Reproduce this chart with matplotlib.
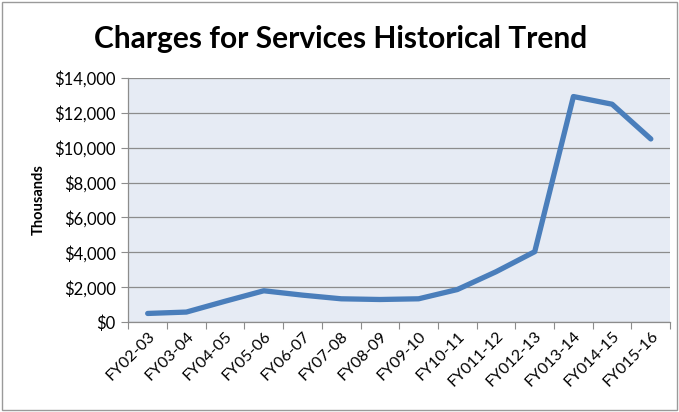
import matplotlib
matplotlib.use("Agg")
import matplotlib.pyplot as plt
from matplotlib.patches import Rectangle
import numpy as np

# chart data (thousands of dollars)
years = ["FY02-03", "FY03-04", "FY04-05", "FY05-06", "FY06-07", "FY07-08", "FY08-09",
         "FY09-10", "FY10-11", "FY011-12", "FY012-13", "FY013-14", "FY014-15", "FY015-16"]
charges = [500, 580, 1200, 1800, 1550, 1340, 1300, 1340, 1870, 2890, 4040, 12930, 12490, 10500]
yticks = [0, 2000, 4000, 6000, 8000, 10000, 12000, 14000]

plt.rcParams['font.family'] = ['Lato', 'DejaVu Sans']

fig = plt.figure(figsize=(6.79, 4.12), dpi=100)
ax = fig.add_axes([0.189, 0.218, 0.798, 0.593])

x = np.arange(len(years))
ax.plot(x, charges, color='#4A7EBB', lw=3.8, solid_capstyle='round', solid_joinstyle='round', zorder=3)

ax.set_facecolor('#E6EBF4')
ax.set_xlim(-0.5, len(years) - 0.5)
ax.set_ylim(0, 14000)
ax.set_yticks(yticks)
ax.set_yticklabels(["${:,}".format(v) for v in yticks], fontsize=12)
ax.yaxis.grid(True, color='#8C8C8C', lw=0.9)
ax.set_axisbelow(True)

# ticks at category boundaries, labels at centres
ax.set_xticks(np.arange(len(years) + 1) - 0.5)
ax.set_xticklabels([])
ax.set_xticks(x, minor=True)
ax.set_xticklabels(years, minor=True, rotation=45, ha='right', va='top',
                   rotation_mode='anchor', fontsize=11.5)
ax.tick_params(axis='x', which='minor', length=0, pad=5)
ax.tick_params(axis='x', which='major', length=5, color='#8C8C8C')
ax.tick_params(axis='y', length=5, color='#8C8C8C', pad=4)

for s in ['top', 'right']:
    ax.spines[s].set_visible(False)
for s in ['left', 'bottom']:
    ax.spines[s].set_color('#8C8C8C')
    ax.spines[s].set_linewidth(0.9)

ax.set_ylabel("Thousands", fontsize=10.5, fontweight='bold', labelpad=6)

fig.text(0.502, 0.905, "Charges for Services Historical Trend", ha='center', va='center',
         fontsize=21.5, fontweight='bold')

# outer chart border
fig.patches.append(Rectangle((0.003, 0.005), 0.994, 0.99, transform=fig.transFigure,
                             fill=False, edgecolor='#9A9A9A', lw=1))

fig.savefig("out.png", dpi=100)
